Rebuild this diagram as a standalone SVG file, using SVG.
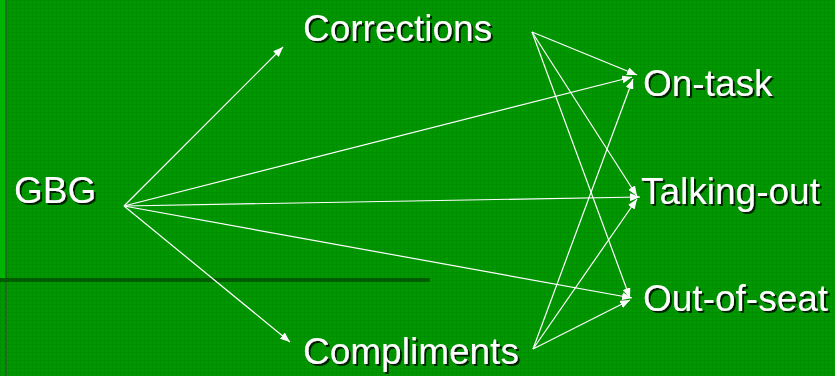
<svg xmlns="http://www.w3.org/2000/svg" width="835" height="376" viewBox="0 0 835 376">
<defs>
<pattern id="grid" width="4" height="4" patternUnits="userSpaceOnUse">
<rect width="4" height="4" fill="#009900"/>
<rect width="4" height="1" fill="#008d00"/>
<rect width="1" height="4" fill="#008f00"/>
</pattern>
<marker id="ah" viewBox="0 0 10 8" refX="10" refY="4" markerWidth="10" markerHeight="8" markerUnits="userSpaceOnUse" orient="auto">
<path d="M0,0 L10,4 L0,8 Z" fill="#ffffff"/>
</marker>
<filter id="sh" x="-10%" y="-20%" width="130%" height="150%">
<feDropShadow dx="2" dy="2" stdDeviation="0.5" flood-color="#002000" flood-opacity="1"/>
</filter>
</defs>
<style>
.lbl{font-family:"Liberation Sans",Arial,sans-serif;font-size:37px;fill:#ffffff;filter:url(#sh)}
.c{stroke:#ffffff;stroke-width:1.2;fill:none;marker-end:url(#ah)}
</style>
<rect width="835" height="376" fill="url(#grid)"/>
<rect x="0" y="0" width="5" height="278" fill="#00b400"/>
<rect x="5" y="0" width="2" height="376" fill="#1a6e1a"/>
<rect x="0" y="278" width="430" height="4" fill="#005c00"/>
<g id="connectors">
<line class="c" x1="124" y1="206" x2="283" y2="47"/>
<line class="c" x1="124" y1="206" x2="632" y2="77"/>
<line class="c" x1="124" y1="206" x2="640" y2="197"/>
<line class="c" x1="124" y1="206" x2="632" y2="298"/>
<line class="c" x1="124" y1="206" x2="290" y2="342"/>
<line class="c" x1="532" y1="32" x2="637" y2="75"/>
<line class="c" x1="532" y1="32" x2="637" y2="196"/>
<line class="c" x1="532" y1="32" x2="630" y2="298"/>
<line class="c" x1="533" y1="349" x2="633" y2="79"/>
<line class="c" x1="533" y1="349" x2="637" y2="199"/>
<line class="c" x1="533" y1="349" x2="630" y2="300"/>
</g>
<g id="gbg"><text class="lbl" x="14" y="203">GBG</text></g>
<g id="corrections"><text class="lbl" x="303" y="41">Corrections</text></g>
<g id="compliments"><text class="lbl" x="303" y="364">Compliments</text></g>
<g id="ontask"><text class="lbl" x="643" y="96">On-task</text></g>
<g id="talkingout"><text class="lbl" x="641" y="204">Talking-out</text></g>
<g id="outofseat"><text class="lbl" x="643" y="311">Out-of-seat</text></g>
</svg>
